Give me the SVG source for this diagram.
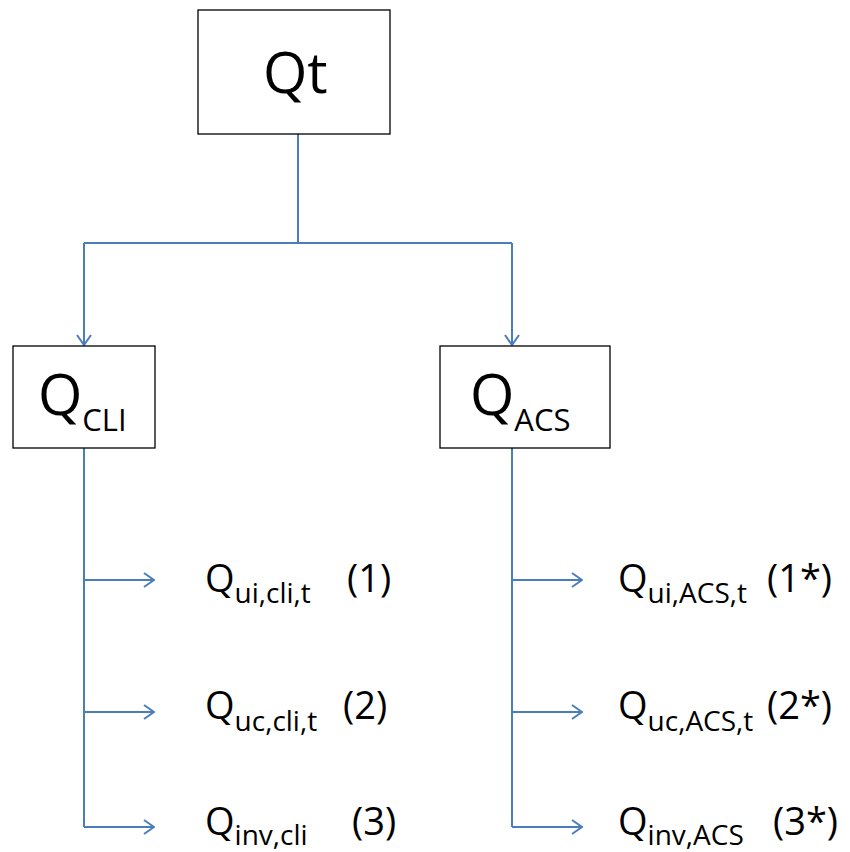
<svg xmlns="http://www.w3.org/2000/svg" width="850" height="852" viewBox="0 0 850 852">
<style>
.box{fill:#fff;stroke:#000;stroke-width:1.3}
.ln{fill:none;stroke:#4a7ebb;stroke-width:2}
.t{font-family:"Open Sans","Liberation Sans",sans-serif;fill:#000}
.big{font-size:57px}
.mid{font-size:38px}
.sub{font-size:28px}
.sub2{font-size:31px}
</style>
<defs>
<marker id="arr" viewBox="0 0 12 16" refX="11" refY="8" markerWidth="12" markerHeight="16" markerUnits="userSpaceOnUse" orient="auto">
<path d="M1,1 L11,8 L1,15" fill="none" stroke="#4a7ebb" stroke-width="2"/>
</marker>
</defs>
<g id="connectors">
<path class="ln" d="M298,134 V243"/>
<path class="ln" d="M84,243 H512"/>
<path class="ln" d="M84,243 V345" marker-end="url(#arr)"/>
<path class="ln" d="M512,243 V345" marker-end="url(#arr)"/>
<path class="ln" d="M84,448 V827"/>
<path class="ln" d="M84,580 H154" marker-end="url(#arr)"/>
<path class="ln" d="M84,712 H154" marker-end="url(#arr)"/>
<path class="ln" d="M84,827 H154" marker-end="url(#arr)"/>
<path class="ln" d="M512,448 V827"/>
<path class="ln" d="M512,580 H582" marker-end="url(#arr)"/>
<path class="ln" d="M512,712 H582" marker-end="url(#arr)"/>
<path class="ln" d="M512,827 H582" marker-end="url(#arr)"/>
</g>
<g id="node-qt">
<rect class="box" x="198" y="10" width="192" height="124"/>
<text class="t big" x="263" y="93">Qt</text>
</g>
<g id="node-qcli">
<rect class="box" x="13" y="346" width="142" height="102"/>
<text class="t big" x="38" y="415">Q<tspan class="sub2" dy="16">CLI</tspan></text>
</g>
<g id="node-qacs">
<rect class="box" x="440" y="346" width="170" height="102"/>
<text class="t big" x="470" y="415">Q<tspan class="sub2" dy="16">ACS</tspan></text>
</g>
<g id="node-qui-cli">
<text class="t mid" x="205" y="592">Q<tspan class="sub" dy="11">ui,cli,t</tspan></text>
<text class="t mid" x="347" y="592">(1)</text>
</g>
<g id="node-quc-cli">
<text class="t mid" x="205" y="719">Q<tspan class="sub" dy="12">uc,cli,t</tspan></text>
<text class="t mid" x="343" y="719">(2)</text>
</g>
<g id="node-qinv-cli">
<text class="t mid" x="205" y="835">Q<tspan class="sub" dy="10">inv,cli</tspan></text>
<text class="t mid" x="352" y="835">(3)</text>
</g>
<g id="node-qui-acs">
<text class="t mid" x="618" y="592">Q<tspan class="sub" dy="11">ui,ACS,t</tspan></text>
<text class="t mid" x="767" y="592">(1*)</text>
</g>
<g id="node-quc-acs">
<text class="t mid" x="618" y="719">Q<tspan class="sub" dy="12">uc,ACS,t</tspan></text>
<text class="t mid" x="767" y="719">(2*)</text>
</g>
<g id="node-qinv-acs">
<text class="t mid" x="618" y="835">Q<tspan class="sub" dy="10">inv,ACS</tspan></text>
<text class="t mid" x="773" y="835">(3*)</text>
</g>
</svg>
